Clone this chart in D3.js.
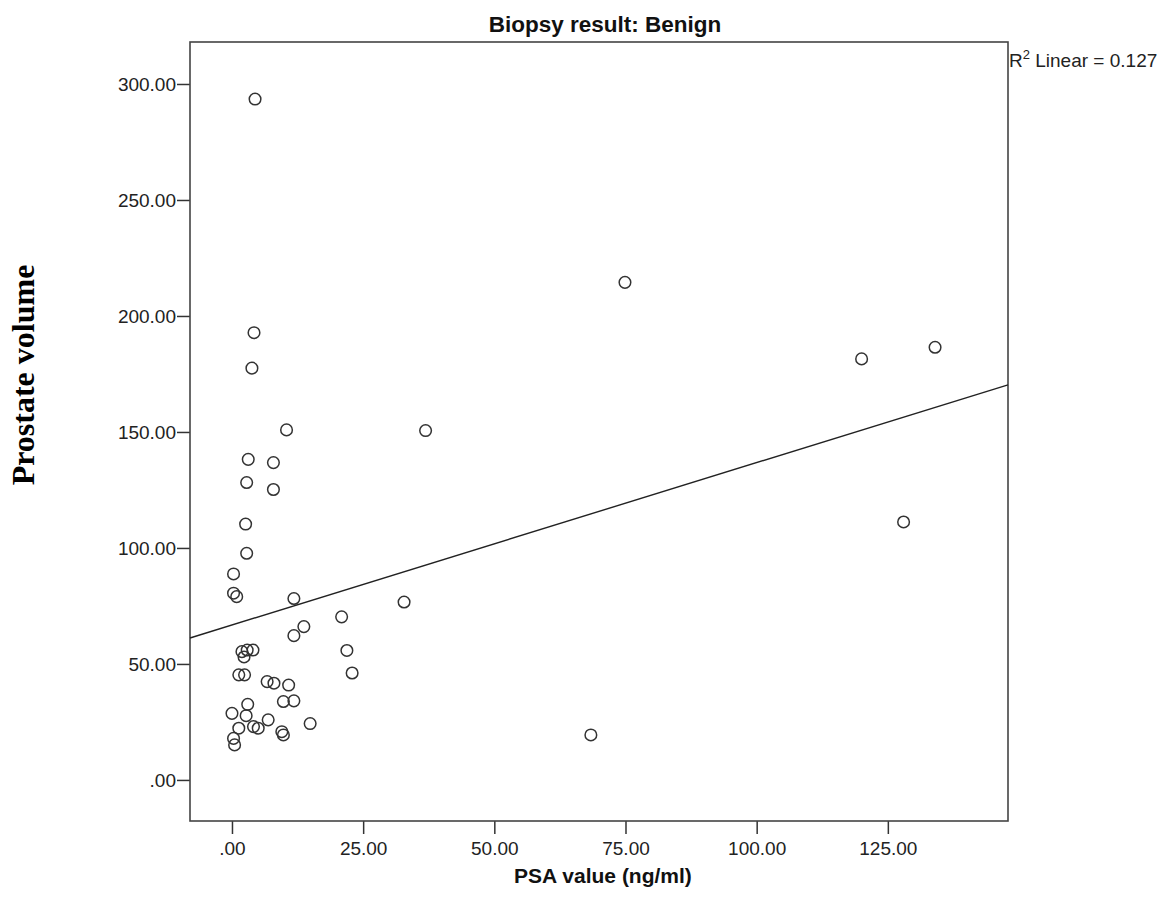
<!DOCTYPE html>
<html lang="en">
<head>
<meta charset="utf-8">
<title>Biopsy result: Benign</title>
<script src="https://d3js.org/d3.v7.min.js"></script>
<style>
  body { margin: 0; background: #fff; }
  svg { display: block; }
</style>
</head>
<body>
<script>
// PSA value (ng/ml) and prostate volume
const psa = [4.4, 74.9, 134.0, 120.0, 128.0, 68.4, 4.2, 3.8, 10.4, 36.9,
  3.1, 7.9, 2.8, 7.9, 2.6, 2.8, 0.3, 0.3, 0.9, 11.8,
  32.8, 20.9, 13.7, 11.8, 21.9, 22.9, 1.9, 2.9, 4.0, 2.3,
  1.3, 2.4, 6.7, 8.0, 10.8, 9.8, 11.8, 3.0, 0.0, 2.7,
  6.9, 1.3, 4.1, 5.0, 14.9, 9.5, 9.8, 0.3, 0.5];
const volume = [293.5, 214.5, 186.5, 181.5, 111.2, 19.4, 192.8, 177.5, 150.9, 150.6,
  138.2, 136.8, 128.2, 125.2, 110.3, 97.7, 88.8, 80.5, 79.0, 78.2,
  76.7, 70.3, 66.1, 62.2, 55.8, 46.1, 55.3, 56.0, 56.0, 53.0,
  45.3, 45.3, 42.4, 41.7, 40.9, 33.8, 34.1, 32.6, 28.7, 27.7,
  25.9, 22.3, 23.0, 22.3, 24.3, 20.8, 19.4, 17.9, 15.1];
const xTicks = [0, 25, 50, 75, 100, 125];
const yTicks = [0, 50, 100, 150, 200, 250, 300];
// linear fit line shown in the chart
const fitIntercept = 66.8;
const fitSlope = 0.70;
const rSquared = "0.127";

const w = 1161, h = 909;
const padLeft = 190, padRight = 1008, padTop = 42, padBottom = 821;
const sans = "Liberation Sans, Arial, sans-serif";

const svg = d3.select("body").append("svg")
  .attr("width", w)
  .attr("height", h);

const xScale = d3.scaleLinear().domain([-8, 147.9]).range([padLeft, padRight]);
const yScale = d3.scaleLinear().domain([-17.7, 318.1]).range([padBottom, padTop]);

const fmt = d => d === 0 ? ".00" : d3.format(".2f")(d);

// axes
const xAxis = svg.append("g")
  .attr("transform", "translate(0," + padBottom + ")")
  .call(d3.axisBottom(xScale).tickValues(xTicks).tickFormat(fmt).tickSize(13).tickSizeOuter(0).tickPadding(8));
const yAxis = svg.append("g")
  .attr("transform", "translate(" + padLeft + ",0)")
  .call(d3.axisLeft(yScale).tickValues(yTicks).tickFormat(fmt).tickSize(13).tickSizeOuter(0).tickPadding(1));
[xAxis, yAxis].forEach(g => {
  g.select(".domain").remove();
  g.selectAll(".tick line").attr("stroke", "#333").attr("stroke-width", 1.5);
  g.selectAll(".tick text")
    .attr("fill", "#222")
    .style("font-family", sans)
    .style("font-size", "19px");
});

// frame
svg.append("rect")
  .attr("x", padLeft).attr("y", padTop)
  .attr("width", padRight - padLeft).attr("height", padBottom - padTop)
  .attr("fill", "none")
  .attr("stroke", "#444")
  .attr("stroke-width", 1.6);

// fit line
const x0 = xScale.domain()[0], x1 = xScale.domain()[1];
svg.append("line")
  .attr("x1", xScale(x0)).attr("y1", yScale(fitIntercept + fitSlope * x0))
  .attr("x2", xScale(x1)).attr("y2", yScale(fitIntercept + fitSlope * x1))
  .attr("stroke", "#222")
  .attr("stroke-width", 1.4);

// points
svg.selectAll("circle.pt")
  .data(psa.map((d, i) => [d, volume[i]]))
  .enter()
  .append("circle")
  .attr("class", "pt")
  .attr("cx", d => xScale(d[0]))
  .attr("cy", d => yScale(d[1]))
  .attr("r", 5.8)
  .attr("fill", "none")
  .attr("stroke", "#333")
  .attr("stroke-width", 1.5);

// title
svg.append("text")
  .attr("x", 605)
  .attr("y", 32)
  .attr("text-anchor", "middle")
  .style("font-family", sans)
  .style("font-weight", "bold")
  .style("font-size", "22.5px")
  .attr("fill", "#111")
  .text("Biopsy result: Benign");

// R2 label
const r2 = svg.append("text")
  .attr("x", padRight + 1)
  .attr("y", 67)
  .style("font-family", sans)
  .style("font-size", "19px")
  .attr("fill", "#222");
r2.append("tspan").text("R");
r2.append("tspan").attr("dy", -8).style("font-size", "13px").text("2");
r2.append("tspan").attr("dy", 8).text(" Linear = " + rSquared);

// axis titles
svg.append("text")
  .attr("x", 603)
  .attr("y", 883)
  .attr("text-anchor", "middle")
  .style("font-family", sans)
  .style("font-weight", "bold")
  .style("font-size", "21px")
  .attr("fill", "#111")
  .text("PSA value (ng/ml)");

svg.append("text")
  .attr("transform", "translate(34,375) rotate(-90)")
  .attr("text-anchor", "middle")
  .style("font-family", "Liberation Serif, Times New Roman, serif")
  .style("font-weight", "bold")
  .style("font-size", "32px")
  .text("Prostate volume");
</script>
</body>
</html>
